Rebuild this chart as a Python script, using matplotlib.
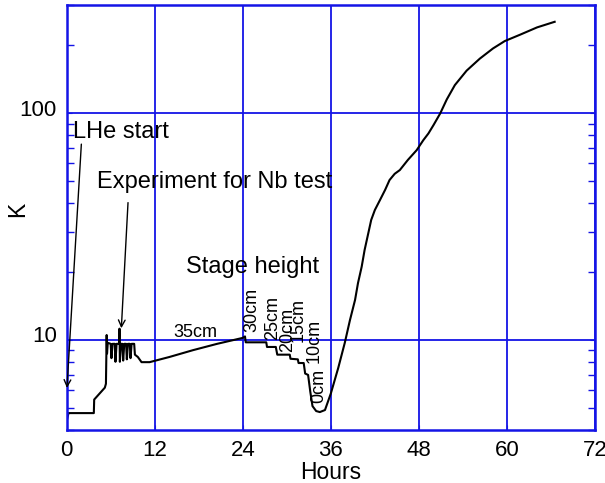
import numpy as np
import matplotlib.pyplot as plt
from matplotlib.ticker import LogLocator, NullFormatter, FixedLocator, FixedFormatter
from matplotlib.transforms import ScaledTranslation

plt.rcParams['font.family'] = ['Liberation Sans', 'DejaVu Sans']

# temperature record
hours = [0.05, 0.25, 3.7, 3.75, 5.2, 5.35, 5.45, 5.5, 5.6, 6.0, 6.1, 6.25, 6.55, 6.65,
         6.8, 7.15, 7.2, 7.25, 7.4, 7.6, 7.7, 7.85, 8.1, 8.2, 8.35, 8.6, 8.7, 8.85,
         9.2, 9.3, 9.7, 10.2, 11.3, 14.0, 17.2, 20.5, 24.0, 24.3, 24.4, 27.2, 27.3,
         28.5, 28.7, 30.4, 30.5, 31.5, 31.6, 32.3, 32.5, 32.9, 33.2, 33.5, 34.0,
         34.5, 35.2, 36.0, 37.0, 37.9, 38.6, 39.3, 39.7, 40.2, 40.6, 41.1, 41.5,
         42.0, 42.7, 43.4, 44.0, 44.7, 45.4, 46.5, 47.7, 48.6, 49.3, 50.0, 50.9,
         51.8, 52.9, 54.5, 56.3, 58.1, 59.7, 61.8, 64.1, 66.5]
kelvin = [4.45, 4.75, 4.75, 5.45, 6.15, 6.4, 10.5, 8.7, 9.7, 9.6, 8.3, 9.6, 9.6, 8.0,
          9.6, 9.6, 11.2, 8.0, 9.6, 9.6, 8.1, 9.6, 9.6, 8.2, 9.6, 9.6, 8.3, 9.6,
          9.6, 8.6, 8.4, 7.97, 7.97, 8.4, 9.0, 9.6, 10.2, 10.35, 9.75, 9.75, 9.3,
          9.3, 8.6, 8.6, 8.25, 8.2, 7.9, 7.9, 7.1, 7.0, 5.9, 5.1, 4.85,
          4.8, 4.9, 5.8, 7.5, 9.7, 12.2, 15.0, 17.8, 21.0, 24.9, 29.5, 33.8,
          37.4, 41.4, 45.9, 50.7, 54.0, 56.1, 62.2, 68.7, 76.0, 81.4, 88.7, 99.7,
          115, 133, 154, 174, 193, 208, 222, 239, 253]

# stage height labels (rotated)
stage_names = ['30cm', '25cm', '20cm', '15cm', '10cm', '0cm']
stage_x = [25.2, 28.1, 30.1, 31.6, 33.7, 34.3]
stage_y = [10.8, 10.0, 8.85, 9.8, 7.9, 5.28]

xticks = [0, 12, 24, 36, 48, 60, 72]
yticks = [10, 100]

blue = '#1414e6'

fig = plt.figure(figsize=(6.05, 4.83), dpi=100)
ax = fig.add_axes([0.1102, 0.1097, 0.8733, 0.8799])

ax.plot(hours, kelvin, color='k', lw=1.5)

ax.set_yscale('log')
ax.set_xlim(0, 72)
ax.set_ylim(4, 300)
ax.xaxis.set_major_locator(FixedLocator(xticks))
ax.yaxis.set_major_locator(FixedLocator(yticks))
ax.yaxis.set_major_formatter(FixedFormatter([str(v) for v in yticks]))
ax.yaxis.set_minor_locator(LogLocator(base=10, subs=np.arange(2, 10)))
ax.yaxis.set_minor_formatter(NullFormatter())
ax.xaxis.set_minor_locator(FixedLocator([]))

ax.grid(True, which='major', color=blue, lw=1.3)
for s in ax.spines.values():
    s.set_color(blue)
    s.set_linewidth(1.8)

ax.tick_params(which='both', direction='in', colors=blue, labelcolor='k',
               left=True, right=True, top=False, bottom=True, labelsize=16)
ax.tick_params(axis='y', pad=7)
ax.tick_params(axis='x', pad=7)
ax.tick_params(which='minor', length=5, width=1)

# y tick labels sit a little above their grid lines in the original
for lab in ax.get_yticklabels():
    lab.set_transform(lab.get_transform() + ScaledTranslation(0, 4 / 72, fig.dpi_scale_trans))

ax.set_xlabel('Hours', fontsize=16.5, labelpad=0)
ax.set_ylabel('K', fontsize=16.5)
ax.yaxis.set_label_coords(-0.072, 0.52)

# annotations
ax.text(0.8, 77.6, 'LHe start', fontsize=17, va='baseline')
ax.annotate('', xy=(0.04, 6.13), xytext=(2.0, 73),
            arrowprops=dict(arrowstyle='->', color='k', lw=1, shrinkA=0, shrinkB=0,
                            mutation_scale=12))
ax.text(4.1, 46.6, 'Experiment for Nb test', fontsize=17, va='baseline')
ax.annotate('', xy=(7.45, 11.25), xytext=(8.36, 40.3),
            arrowprops=dict(arrowstyle='->', color='k', lw=1, shrinkA=0, shrinkB=0,
                            mutation_scale=12))
ax.text(16.3, 19.7, 'Stage height', fontsize=17, va='baseline')
ax.text(14.5, 10.3, '35cm', fontsize=13, va='baseline')
for name, x, y in zip(stage_names, stage_x, stage_y):
    ax.text(x, y, name, fontsize=13, rotation=90, ha='center', va='bottom')

plt.savefig('out.png', dpi=100)
